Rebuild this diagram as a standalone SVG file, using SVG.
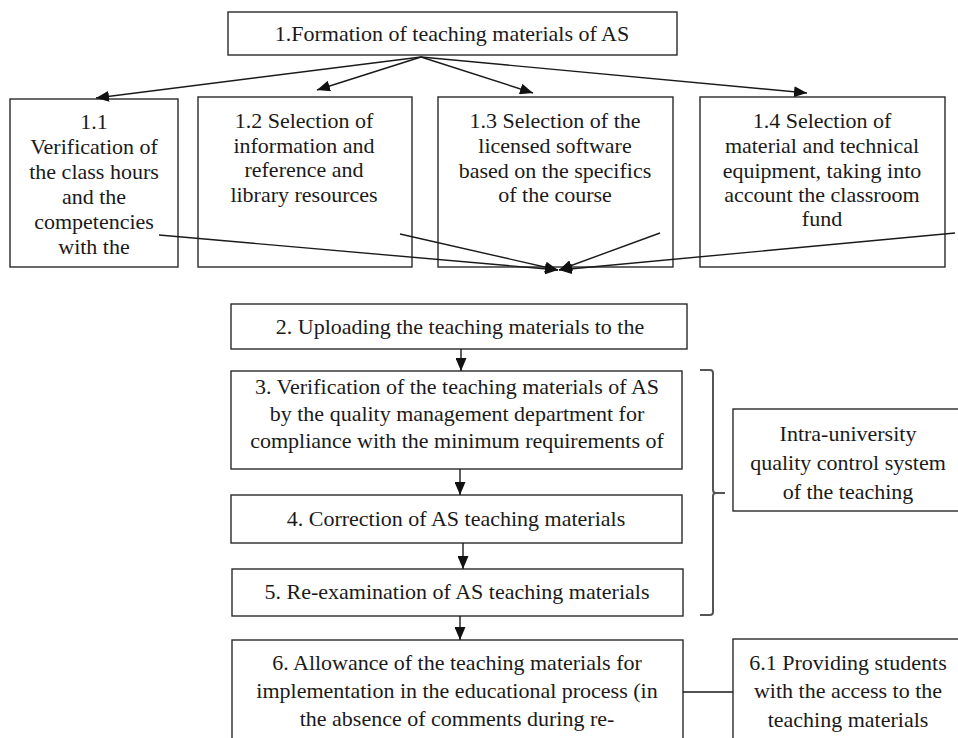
<svg xmlns="http://www.w3.org/2000/svg" width="958" height="738" viewBox="0 0 958 738">
<style>
.box{fill:#fff;stroke:#2a2a2a;stroke-width:1.4}
.t{font-family:"Liberation Serif","Times New Roman",serif;font-size:22px;fill:#1a1a1a;text-anchor:middle}
.ln{stroke:#1a1a1a;stroke-width:1.4;fill:none}
.br{stroke:#555;stroke-width:2;fill:none}
</style>
<defs>
<marker id="ah" viewBox="0 0 13 11" markerWidth="13" markerHeight="11" refX="13" refY="5.5" orient="auto" markerUnits="userSpaceOnUse">
<path d="M0,0 L13,5.5 L0,11 z" fill="#111"/>
</marker>
<clipPath id="c2"><rect x="231" y="304" width="456" height="37"/></clipPath>
<clipPath id="c3"><rect x="231" y="371" width="451" height="90"/></clipPath>
</defs>

<g id="n1">
<rect class="box" x="228" y="12" width="449" height="43"/>
<text class="t" x="452" y="41">1.Formation of teaching materials of AS</text>
</g>

<g id="n1_1">
<rect class="box" x="10" y="99" width="168" height="168"/>
<text class="t" x="94" y="129">1.1</text>
<text class="t" x="94" y="154">Verification of</text>
<text class="t" x="94" y="179">the class hours</text>
<text class="t" x="94" y="204">and the</text>
<text class="t" x="94" y="229">competencies</text>
<text class="t" x="94" y="254">with the</text>
</g>

<g id="n1_2">
<rect class="box" x="198" y="97" width="214" height="170"/>
<text class="t" x="304" y="128">1.2 Selection of</text>
<text class="t" x="304" y="153">information and</text>
<text class="t" x="304" y="177">reference and</text>
<text class="t" x="304" y="202">library resources</text>
</g>

<g id="n1_3">
<rect class="box" x="438" y="97" width="235" height="170"/>
<text class="t" x="555" y="128">1.3 Selection of the</text>
<text class="t" x="555" y="153">licensed software</text>
<text class="t" x="555" y="178">based on the specifics</text>
<text class="t" x="555" y="202">of the course</text>
</g>

<g id="n1_4">
<rect class="box" x="700" y="97" width="245" height="170"/>
<text class="t" x="822" y="128">1.4 Selection of</text>
<text class="t" x="822" y="153">material and technical</text>
<text class="t" x="822" y="178">equipment, taking into</text>
<text class="t" x="822" y="202">account the classroom</text>
<text class="t" x="822" y="226">fund</text>
</g>

<g id="n2">
<rect class="box" x="231" y="304" width="456" height="45"/>
<text class="t" x="460" y="334" clip-path="url(#c2)">2. Uploading the teaching materials to the</text>
</g>

<g id="n3">
<rect class="box" x="231" y="371" width="451" height="98"/>
<g clip-path="url(#c3)">
<text class="t" x="457" y="394">3. Verification of the teaching materials of AS</text>
<text class="t" x="457" y="421">by the quality management department for</text>
<text class="t" x="457" y="448">compliance with the minimum requirements of</text>
</g>
</g>

<g id="n4">
<rect class="box" x="231" y="495" width="451" height="48"/>
<text class="t" x="456" y="526">4. Correction of AS teaching materials</text>
</g>

<g id="n5">
<rect class="box" x="232" y="569" width="451" height="47"/>
<text class="t" x="457" y="599">5. Re-examination of AS teaching materials</text>
</g>

<g id="n6">
<rect class="box" x="232" y="640" width="451" height="110"/>
<text class="t" x="457" y="670">6. Allowance of the teaching materials for</text>
<text class="t" x="457" y="698">implementation in the educational process (in</text>
<text class="t" x="457" y="726">the absence of comments during re-</text>
</g>

<g id="nq">
<rect class="box" x="733" y="409" width="230" height="102"/>
<text class="t" x="848" y="441">Intra-university</text>
<text class="t" x="848" y="470">quality control system</text>
<text class="t" x="848" y="499">of the teaching</text>
</g>

<g id="n6_1">
<rect class="box" x="733" y="639" width="230" height="110"/>
<text class="t" x="848" y="670">6.1 Providing students</text>
<text class="t" x="848" y="698">with the access to the</text>
<text class="t" x="848" y="727">teaching materials</text>
</g>

<g id="connectors">
<line class="ln" x1="421" y1="57" x2="96" y2="98" marker-end="url(#ah)"/>
<line class="ln" x1="421" y1="57" x2="317" y2="90" marker-end="url(#ah)"/>
<line class="ln" x1="421" y1="57" x2="533" y2="93" marker-end="url(#ah)"/>
<line class="ln" x1="421" y1="57" x2="807" y2="93" marker-end="url(#ah)"/>
<line class="ln" x1="159" y1="235" x2="558" y2="270" marker-end="url(#ah)"/>
<line class="ln" x1="400" y1="234" x2="558" y2="270" marker-end="url(#ah)"/>
<line class="ln" x1="660" y1="233" x2="559" y2="270" marker-end="url(#ah)"/>
<line class="ln" x1="955" y1="233" x2="559" y2="270" marker-end="url(#ah)"/>
<line class="ln" x1="461" y1="349" x2="461" y2="371" marker-end="url(#ah)"/>
<line class="ln" x1="460" y1="469" x2="460" y2="495" marker-end="url(#ah)"/>
<line class="ln" x1="463" y1="543" x2="463" y2="569" marker-end="url(#ah)"/>
<line class="ln" x1="460" y1="616" x2="460" y2="640" marker-end="url(#ah)"/>
<line class="ln" x1="683" y1="692" x2="733" y2="692"/>
<path class="br" d="M700,370 H710 Q713,370 713,373 V490 Q713,493 716,493 H725 M716,493 Q713,493 713,496 V612 Q713,615 710,615 H700"/>
</g>
</svg>
